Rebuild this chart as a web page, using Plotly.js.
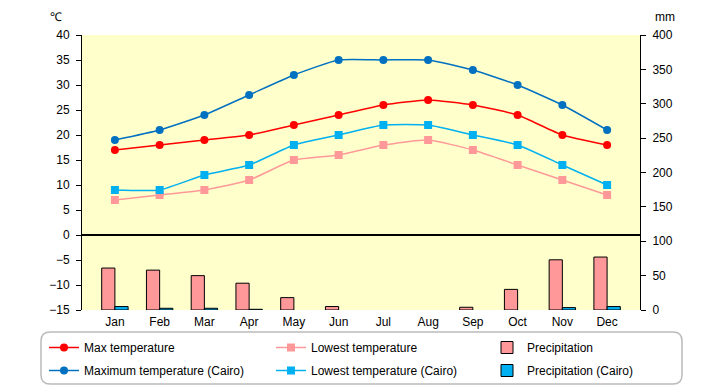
<!DOCTYPE html>
<html>
<head>
<meta charset="utf-8">
<script src="https://cdn.plot.ly/plotly-3.0.1.min.js"></script>
<style>html,body{margin:0;padding:0;background:#fff;}#chart{width:720px;height:385px;}</style>
</head>
<body>
<div id="chart"></div>
<script>
// ---- data ----
var months = ['Jan','Feb','Mar','Apr','May','Jun','Jul','Aug','Sep','Oct','Nov','Dec'];
var maxTemp = [17,18,19,20,22,24,26,27,26,24,20,18];
var lowTemp = [7,8,9,11,15,16,18,19,17,14,11,8];
var precip = [61,58,50,39,18,5,0,0,4,30,73,77];
var maxTempCairo = [19,21,24,28,32,35,35,35,33,30,26,21];
var lowTempCairo = [9,9,12,14,18,20,22,22,20,18,14,10];
var precipCairo = [5,2.5,2.5,1,0,0,0,0,0,0,3.5,5];
var tempTicks = [-15,-10,-5,0,5,10,15,20,25,30,35,40];
var mmTicks = [0,50,100,150,200,250,300,350,400];

// ---- geometry helpers (pixels -> paper) ----
var L = 82, R = 80, T = 35, B = 75, W = 720, H = 385;
var PW = W - L - R, PH = H - T - B;
function px(x){ return (x - L) / PW; }
function py(y){ return (H - B - y) / PH; }

function roundRect(x0, y0, x1, y1, r){
  var rx = r / PW, ry = r / PH;
  var a = px(x0), b = px(x1), c = py(y0), d = py(y1);
  return 'M' + (a+rx) + ',' + c + ' L' + (b-rx) + ',' + c +
    ' Q' + b + ',' + c + ' ' + b + ',' + (c-ry) +
    ' L' + b + ',' + (d+ry) + ' Q' + b + ',' + d + ' ' + (b-rx) + ',' + d +
    ' L' + (a+rx) + ',' + d + ' Q' + a + ',' + d + ' ' + a + ',' + (d+ry) +
    ' L' + a + ',' + (c-ry) + ' Q' + a + ',' + c + ' ' + (a+rx) + ',' + c + ' Z';
}

var font = {family: 'Liberation Sans, Arial, sans-serif', size: 12, color: '#000'};

function lineTrace(name, y, color, symbol, size, legend, group){
  return {
    type: 'scatter', mode: 'lines+markers', name: name, x: months, y: y,
    line: {color: color, width: 1.5, shape: 'spline', smoothing: 0.5},
    marker: {color: color, symbol: symbol, size: size},
    legend: legend, legendgroup: group, xaxis: 'x', yaxis: 'y'
  };
}
function barTrace(name, y, color, legend, group){
  return {
    type: 'bar', name: name, x: months, y: y,
    marker: {color: color, line: {color: '#000', width: y.map(function(v){ return v > 0 ? 1 : 0; })}},
    legend: legend, legendgroup: group, xaxis: 'x', yaxis: 'y2'
  };
}

var data = [
  lineTrace('Max temperature', maxTemp, '#FF0000', 'circle', 8, 'legend', 'g1'),
  lineTrace('Lowest temperature', lowTemp, '#FF9999', 'square', 8, 'legend2', 'g2'),
  barTrace('Precipitation', precip, '#FF9999', 'legend3', 'g3'),
  lineTrace('Maximum temperature (Cairo)', maxTempCairo, '#0070C0', 'circle', 8, 'legend', 'g4'),
  lineTrace('Lowest temperature (Cairo)', lowTempCairo, '#00B0F0', 'square', 8, 'legend2', 'g5'),
  barTrace('Precipitation (Cairo)', precipCairo, '#00B0F0', 'legend3', 'g6')
];

function legendAt(xpx){
  return {
    x: px(xpx), y: py(333), xanchor: 'left', yanchor: 'top',
    orientation: 'v', traceorder: 'grouped', tracegroupgap: 4,
    bgcolor: 'rgba(0,0,0,0)', borderwidth: 0, font: font
  };
}

var layout = {
  width: W, height: H,
  margin: {l: L, r: R, t: T, b: B, pad: 0, autoexpand: false},
  paper_bgcolor: '#FFFFFF',
  plot_bgcolor: '#FFFFCC',
  font: font,
  showlegend: true,
  barmode: 'group', bargap: 0.41, bargroupgap: 0,
  xaxis: {
    type: 'category', showgrid: false, showline: false, zeroline: false,
    ticks: '', tickfont: font, fixedrange: true, automargin: false, ticklabelstandoff: 3
  },
  yaxis: {
    range: [-15, 40], tickvals: tempTicks, ticktext: tempTicks.map(function(v){return v < 0 ? '\u2212' + Math.abs(v) : String(v);}),
    showgrid: false, showline: true, linecolor: '#000', linewidth: 1,
    ticks: 'outside', ticklen: 5, tickcolor: '#000', tickwidth: 1,
    zeroline: true, zerolinecolor: '#000', zerolinewidth: 1.5,
    tickfont: font, ticklabelstandoff: 4, automargin: false
  },
  yaxis2: {
    range: [0, 400], tickvals: mmTicks, overlaying: 'y', side: 'right',
    showgrid: false, showline: true, linecolor: '#000', linewidth: 1,
    ticks: 'outside', ticklen: 5, tickcolor: '#000', tickwidth: 1,
    zeroline: false, tickfont: font, ticklabelstandoff: 4, automargin: false
  },
  legend: legendAt(44),
  legend2: legendAt(271),
  legend3: legendAt(487),
  shapes: [{
    type: 'path', xref: 'paper', yref: 'paper',
    path: roundRect(41, 332, 682, 384, 9),
    line: {color: '#BBBBBB', width: 1.5}, fillcolor: 'rgba(0,0,0,0)', layer: 'below'
  }],
  annotations: [
    {text: '\u2103', xref: 'paper', yref: 'paper', x: px(56), y: py(17), showarrow: false, font: font, xanchor: 'center', yanchor: 'middle'},
    {text: 'mm', xref: 'paper', yref: 'paper', x: px(665), y: py(17), showarrow: false, font: font, xanchor: 'center', yanchor: 'middle'}
  ]
};

Plotly.newPlot('chart', data, layout, {staticPlot: true, displayModeBar: false});
</script>
</body>
</html>
